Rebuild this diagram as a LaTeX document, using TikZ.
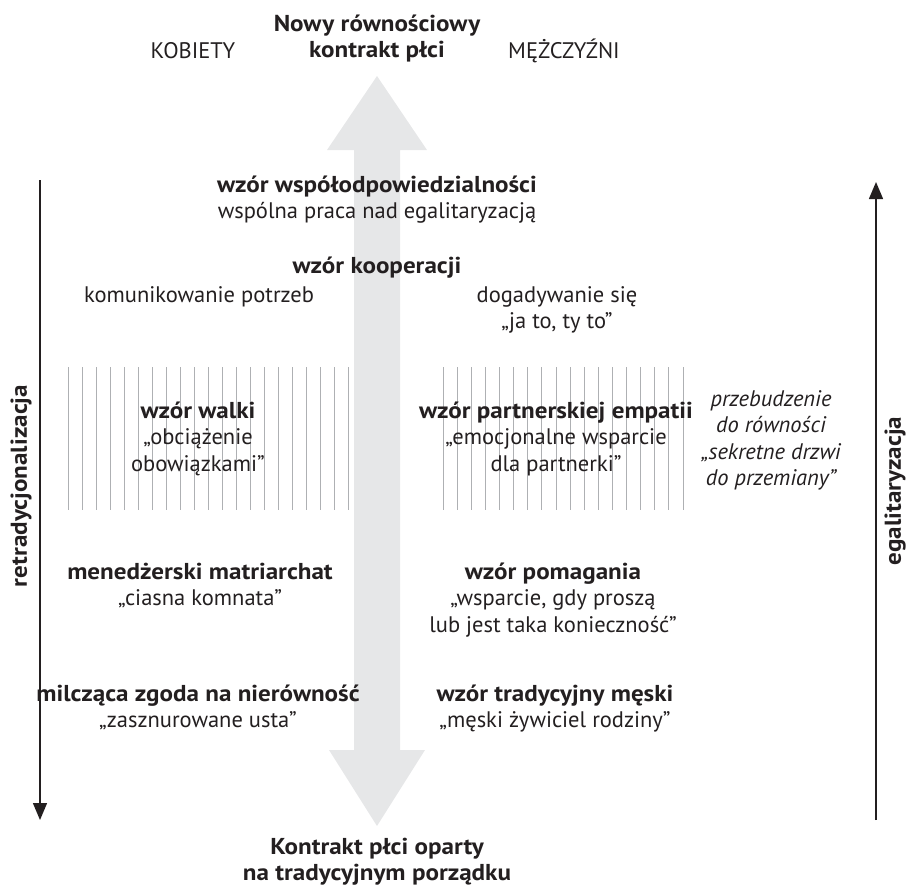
\documentclass[tikz,border=0pt]{standalone}
\usepackage{fontspec}
\setmainfont{PT Sans}[BoldFeatures={FakeStretch=1.09}]
\usetikzlibrary{arrows.meta}
\definecolor{ink}{HTML}{231F20}
\definecolor{bigarrow}{HTML}{E6E7E8}
\definecolor{hatchc}{HTML}{AEB0B3}
\newcommand\boldline[1]{{\fontsize{23}{26.5}\selectfont\bfseries #1}}
\tikzset{
  lbl/.style={font=\fontsize{22.5}{26.5}\selectfont, text=ink, align=center, inner sep=0pt, anchor=base},
  lblb/.style={lbl, font=\fontsize{23}{26.5}\selectfont\bfseries},
  lbli/.style={lbl, font=\fontsize{22.5}{26.5}\selectfont\itshape},
  axisarrow/.style={draw=ink, line width=1.4pt, -{Triangle[length=17pt,width=14pt]}},
  hatchline/.style={draw=hatchc, line width=0.9pt},
}
\begin{document}
\begin{tikzpicture}[x=1pt, y=-1pt]
\useasboundingbox (0,0) rectangle (907,894);
% big double arrow
\fill[bigarrow] (377,76) -- (427,150) -- (400,150) -- (400,750) -- (425,750)
  -- (377,826) -- (329,750) -- (354,750) -- (354,150) -- (327,150) -- cycle;
% hatching
\foreach \i in {0,...,20} \draw[hatchline] ({68+14*\i},367) -- ({68+14*\i},510);
\foreach \i in {0,...,17} \draw[hatchline] ({443+14.12*\i},367) -- ({443+14.12*\i},510);
% side axes
\coordinate (lt) at (40,180);
\coordinate (lb) at (40,820);
\coordinate (rb) at (876,820);
\coordinate (rt) at (876,182);
\draw[axisarrow] (lt) -- (lb);
\draw[axisarrow] (rb) -- (rt);
\node[lblb, rotate=90, anchor=center] (retr) at (21,486) {retradycjonalizacja};
\node[lblb, rotate=90, anchor=center] (egal) at (895,491) {egalitaryzacja};
% texts (anchor = baseline of last line)
\node[lblb] (top) at (377,57.5) {Nowy równościowy\\kontrakt płci};
\node[lbl] (kob) at (193,58) {KOBIETY};
\node[lbl] (mez) at (564,58) {MĘŻCZYŹNI};
\node[lbl] (wsp) at (377,218.5) {\boldline{wzór współodpowiedzialności}\\wspólna praca nad egalitaryzacją};
\node[lblb] (koop) at (377,273) {wzór kooperacji};
\node[lbl] (kom) at (199,302) {komunikowanie potrzeb};
\node[lbl] (dog) at (557,328.5) {dogadywanie się\\„ja to, ty to”};
\node[lbl] (walka) at (198,471) {\boldline{wzór walki}\\„obciążenie\\obowiązkami”};
\node[lbl] (empat) at (556,471) {\boldline{wzór partnerskiej empatii}\\„emocjonalne wsparcie\\dla partnerki”};
\node[lbli] (przeb) at (771,485.5) {przebudzenie\\do równości\\„sekretne drzwi\\do przemiany”};
\node[lbl] (mened) at (200,605.5) {\boldline{menedżerski matriarchat}\\„ciasna komnata”};
\node[lbl] (pomag) at (553,632) {\boldline{wzór pomagania}\\„wsparcie, gdy proszą\\lub jest taka konieczność”};
\node[lbl] (milcz) at (198,727.5) {\boldline{milcząca zgoda na nierówność}\\„zasznurowane usta”};
\node[lbl] (trad) at (555,727.5) {\boldline{wzór tradycyjny męski}\\„męski żywiciel rodziny”};
\node[lblb] (bottom) at (377,880.5) {Kontrakt płci oparty\\na tradycyjnym porządku};
\end{tikzpicture}
\end{document}
